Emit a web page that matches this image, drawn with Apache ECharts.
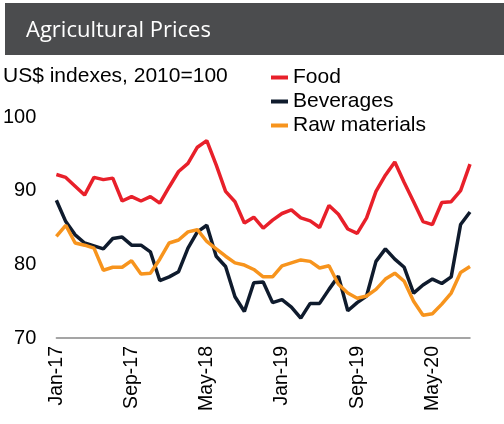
<!DOCTYPE html>
<html>
<head>
<meta charset="utf-8">
<script src="https://cdn.jsdelivr.net/npm/echarts@6/dist/echarts.min.js"></script>
<style>
html, body { margin: 0; padding: 0; background: #fff; }
#main { width: 504px; height: 424px; }
</style>
</head>
<body>
<div id="main"></div>
<script type="text/javascript">
var months = ['Jan-17','Feb-17','Mar-17','Apr-17','May-17','Jun-17','Jul-17','Aug-17','Sep-17','Oct-17','Nov-17','Dec-17',
    'Jan-18','Feb-18','Mar-18','Apr-18','May-18','Jun-18','Jul-18','Aug-18','Sep-18','Oct-18','Nov-18','Dec-18',
    'Jan-19','Feb-19','Mar-19','Apr-19','May-19','Jun-19','Jul-19','Aug-19','Sep-19','Oct-19','Nov-19','Dec-19',
    'Jan-20','Feb-20','Mar-20','Apr-20','May-20','Jun-20','Jul-20','Aug-20','Sep-20'];

var food = [92.2, 91.8, 90.6, 89.4, 91.8, 91.5, 91.7, 88.6, 89.2, 88.6, 89.2, 88.3,
    90.5, 92.6, 93.7, 95.9, 96.8, 93.5, 89.9, 88.5, 85.6, 86.4, 84.9,
    86.0, 86.9, 87.4, 86.3, 85.9, 85.0, 88.0, 86.8, 84.8, 84.2, 86.3,
    89.9, 92.1, 93.9, 91.1, 88.5, 85.8, 85.4, 88.4, 88.5, 90.0, 93.6];

var beverages = [88.7, 85.8, 84.0, 82.9, 82.5, 82.1, 83.5, 83.7, 82.6, 82.6, 81.7, 77.8,
    78.3, 79.0, 82.2, 84.4, 85.3, 81.1, 79.7, 75.6, 73.6, 77.5, 77.6,
    74.8, 75.2, 74.2, 72.7, 74.7, 74.7, 76.6, 78.4, 73.7, 74.8, 75.7,
    80.4, 82.1, 80.7, 79.6, 76.1, 77.2, 78.0, 77.4, 78.3, 85.4, 87.1];

var rawMaterials = [83.8, 85.3, 82.9, 82.6, 82.2, 79.2, 79.6, 79.6, 80.5, 78.7, 78.8, 80.7,
    82.9, 83.3, 84.4, 84.7, 83.1, 82.1, 81.1, 80.2, 79.9, 79.3, 78.3,
    78.3, 79.8, 80.2, 80.6, 80.4, 79.5, 79.8, 77.3, 76.1, 75.4, 75.7,
    76.6, 78.0, 78.8, 77.7, 75.0, 73.1, 73.3, 74.6, 76.1, 78.9, 79.7];

var font = '"Liberation Sans", Arial, sans-serif';

var chart = echarts.init(document.getElementById('main'));
var option = {
    animation: false,
    textStyle: { fontFamily: font },
    graphic: [
        {
            type: 'rect',
            shape: { x: 5, y: 3, width: 499, height: 52 },
            style: { fill: '#4b4c4e' }
        },
        {
            type: 'text',
            x: 26, y: 31,
            style: {
                text: 'Agricultural Prices',
                fill: '#fff',
                font: '22px "Open Sans", sans-serif',
                verticalAlign: 'middle'
            }
        }
    ],
    title: {
        text: 'US$ indexes, 2010=100',
        left: -2, top: 61,
        textStyle: { fontSize: 21, fontWeight: 'normal', color: '#000', fontFamily: font }
    },
    legend: {
        orient: 'vertical',
        left: 266, top: 62,
        itemWidth: 17, itemHeight: 4,
        itemGap: 3,
        icon: 'rect',
        textStyle: { fontSize: 21, color: '#000', fontFamily: font },
        data: ['Food', 'Beverages', 'Raw materials']
    },
    grid: { left: 53, right: 34, top: 117, bottom: 86, containLabel: false },
    xAxis: {
        type: 'category',
        data: months,
        boundaryGap: false,
        axisLine: { lineStyle: { color: '#888', width: 1.5 } },
        axisTick: { show: false },
        axisLabel: { rotate: 90, interval: 7, fontSize: 19.5, color: '#000', margin: 8 }
    },
    yAxis: {
        type: 'value',
        min: 70, max: 100, interval: 10,
        splitLine: { show: false },
        axisLine: { show: false },
        axisTick: { show: false },
        axisLabel: { fontSize: 20, color: '#000', margin: 20 }
    },
    series: [
        { name: 'Food', type: 'line', data: food, symbol: 'none',
          itemStyle: { color: '#e8202a' }, lineStyle: { width: 3.5, color: '#e8202a' } },
        { name: 'Beverages', type: 'line', data: beverages, symbol: 'none',
          itemStyle: { color: '#0f1b2d' }, lineStyle: { width: 3.5, color: '#0f1b2d' } },
        { name: 'Raw materials', type: 'line', data: rawMaterials, symbol: 'none',
          itemStyle: { color: '#f7941d' }, lineStyle: { width: 3.5, color: '#f7941d' } }
    ]
};
chart.setOption(option);
</script>
</body>
</html>
